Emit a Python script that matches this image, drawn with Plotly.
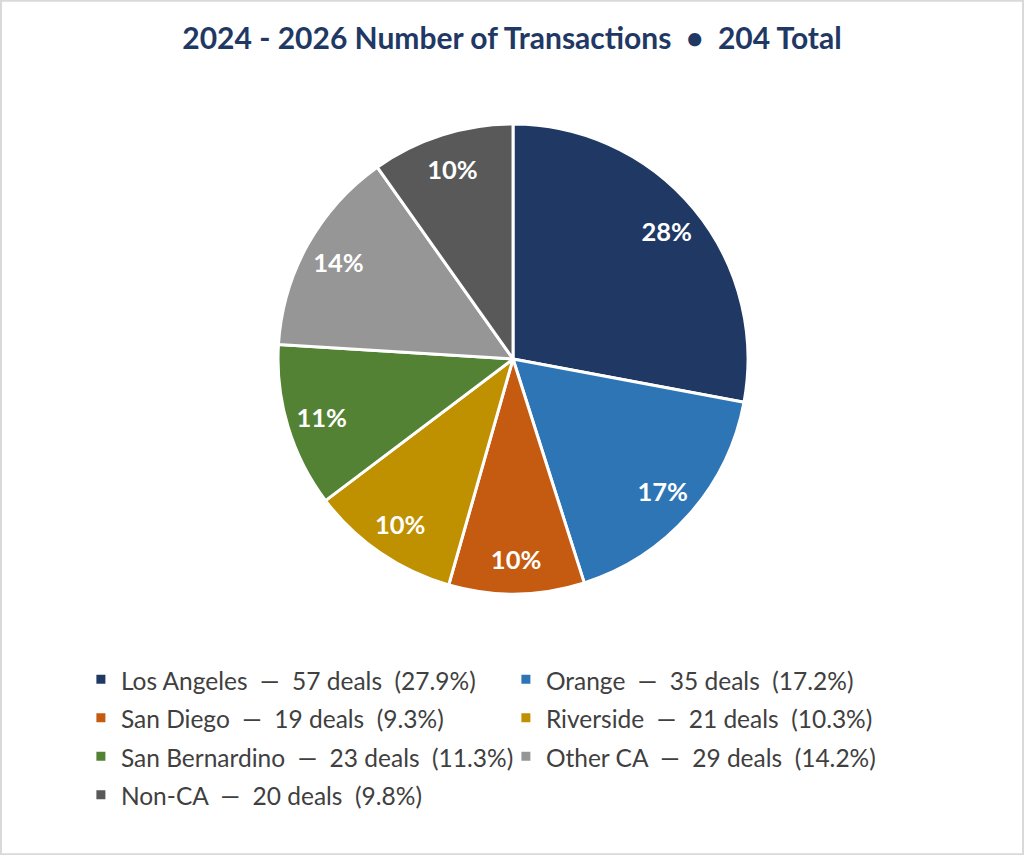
import plotly.graph_objects as go

regions = ["Los Angeles", "Orange", "San Diego", "Riverside", "San Bernardino", "Other CA", "Non-CA"]
deals = [57, 35, 19, 21, 23, 29, 20]
slice_labels = ["28%", "17%", "10%", "10%", "11%", "14%", "10%"]
colors = ["#1F3864", "#2E75B6", "#C55A11", "#BF9000", "#548235", "#969696", "#595959"]
title_text = "2024 - 2026 Number of Transactions  \u2022  204 Total"

total = sum(deals)
nb = "\u00a0"
legend_names = [
    f'<span style="font-size:24.5px">{r}{nb*2}\u2014{nb*2}{d} deals{nb*2}({d / total * 100:.1f}%)</span>'
    for r, d in zip(regions, deals)
]

pie_domain = dict(x=[0.2715, 0.7305], y=[0.3053, 0.855])

fig = go.Figure()

# Coloured slices (legend source)
fig.add_trace(
    go.Pie(
        labels=legend_names,
        values=deals,
        textinfo="none",
        marker=dict(colors=colors, line=dict(color="white", width=3)),
        sort=False,
        direction="clockwise",
        rotation=0,
        domain=pie_domain,
        hoverinfo="label+value",
    )
)

# Transparent ring carrying the percentage labels near the rim
fig.add_trace(
    go.Pie(
        labels=regions,
        values=deals,
        text=slice_labels,
        textinfo="text",
        texttemplate="<b>%{text}</b>",
        textposition="inside",
        insidetextorientation="horizontal",
        insidetextfont=dict(color="white", size=25.5, family="Lato"),
        marker=dict(colors=["rgba(0,0,0,0)"] * len(deals), line=dict(width=0)),
        hole=0.70,
        sort=False,
        direction="clockwise",
        rotation=0,
        domain=pie_domain,
        showlegend=False,
        hoverinfo="skip",
    )
)

fig.update_layout(
    width=1024,
    height=855,
    margin=dict(l=0, r=0, t=0, b=0),
    paper_bgcolor="white",
    plot_bgcolor="white",
    title=dict(
        text=f"<b>{title_text}</b>",
        x=0.5,
        xanchor="center",
        y=1 - 38 / 855,
        yanchor="middle",
        font=dict(size=30, color="#1F3864", family="Lato"),
    ),
    showlegend=True,
    legend=dict(
        orientation="h",
        x=0.079,
        xanchor="left",
        y=1 - 655 / 855,
        yanchor="top",
        entrywidth=380,
        entrywidthmode="pixels",
        font=dict(size=27.3, color="#404040", family="Lato"),
        traceorder="normal",
        bgcolor="rgba(0,0,0,0)",
    ),
    shapes=[
        dict(
            type="rect", xref="paper", yref="paper", x0=0.001, y0=0.001, x1=0.999, y1=0.999,
            line=dict(color="#D9D9D9", width=2), fillcolor="rgba(0,0,0,0)", layer="below",
        )
    ],
)

fig.write_html(
    "out.html",
    config={"displayModeBar": False},
    post_script="document.body.style.margin='0px';",
)
